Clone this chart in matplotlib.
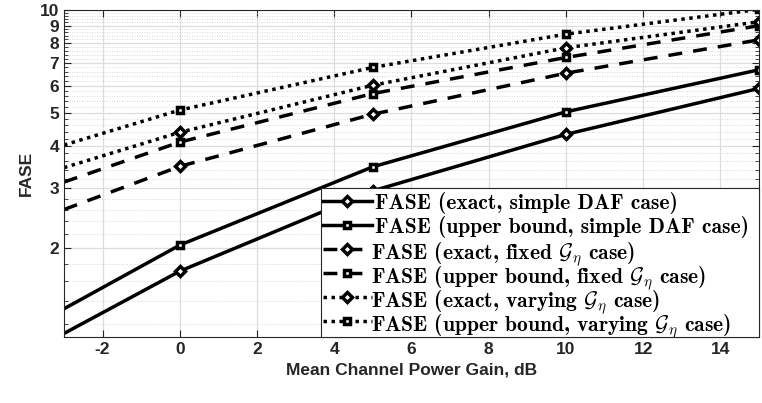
import numpy as np
import matplotlib
matplotlib.use('Agg')
import matplotlib.pyplot as plt
from matplotlib.patches import Rectangle
from matplotlib.ticker import FixedLocator, NullFormatter

plt.rcParams['mathtext.fontset'] = 'cm'
plt.rcParams['font.family'] = ['Liberation Sans', 'DejaVu Sans']
plt.rcParams['axes.unicode_minus'] = False

# Mean channel power gain (dB)
gainDb = [-3, 0, 5, 10, 15]

# FASE curves
simpleExact = [1.126, 1.715, 2.95, 4.32, 5.89]
simpleUpper = [1.33, 2.045, 3.47, 5.03, 6.68]
fixedExact = [2.60, 3.48, 4.95, 6.53, 8.18]
fixedUpper = [3.13, 4.10, 5.69, 7.26, 9.00]
varyingExact = [3.45, 4.38, 6.02, 7.75, 9.24]
varyingUpper = [4.02, 5.09, 6.79, 8.50, 10.05]

labels = [
    r'FASE (exact, simple DAF case)',
    r'FASE (upper bound, simple DAF case)',
    r'FASE (exact, fixed $\mathcal{G}_\eta$ case)',
    r'FASE (upper bound, fixed $\mathcal{G}_\eta$ case)',
    r'FASE (exact, varying $\mathcal{G}_\eta$ case)',
    r'FASE (upper bound, varying $\mathcal{G}_\eta$ case)',
]

fig = plt.figure(figsize=(7.62, 4.03), dpi=100)
ax = fig.add_axes([0.084, 0.164, 0.912, 0.811])

series = [simpleExact, simpleUpper, fixedExact, fixedUpper, varyingExact, varyingUpper]
markers = ['D', 's', 'D', 's', 'D', 's']
styles = ['solid', 'solid', 'dashed', 'dashed', 'dotted', 'dotted']


def styleLine(line, st):
    if st == 'dashed':
        line.set_dashes((4, 3.2))
        line.set_dash_capstyle('butt')
    elif st == 'dotted':
        line.set_dashes((1, 1.3))
        line.set_dash_capstyle('butt')


def markerSize(mk):
    return 5 if mk == 's' else 5.5


for vals, mk, st in zip(series, markers, styles):
    line, = ax.plot(gainDb, vals, color='black', lw=2.5, marker=mk,
                    markersize=markerSize(mk), mfc='white', mec='black',
                    mew=2.5, markevery=[1, 2, 3, 4])
    styleLine(line, st)

ax.set_yscale('log')
ax.set_xlim(-3, 15)
ax.set_ylim(1.1, 10)
ax.set_xticks(np.arange(-2, 15, 2))
yt = [2, 3, 4, 5, 6, 7, 8, 9, 10]
ax.yaxis.set_major_locator(FixedLocator(yt))
ax.set_yticklabels([str(v) for v in yt])
minor = [v for v in np.arange(1.2, 10, 0.2) if abs(v - round(v)) > 1e-6]
ax.yaxis.set_minor_locator(FixedLocator(minor))
ax.yaxis.set_minor_formatter(NullFormatter())

ax.grid(True, which='major', color='#dddddd', lw=0.9)
ax.grid(True, which='minor', axis='y', color='#cccccc', lw=0.6, linestyle=(0, (1, 2)))
ax.set_axisbelow(True)

ax.tick_params(which='both', direction='in', top=True, right=True, colors='#262626',
               labelsize=12.5)
ax.tick_params(which='major', length=5)
ax.tick_params(which='minor', length=3)
for lbl in ax.get_xticklabels() + ax.get_yticklabels():
    lbl.set_fontweight('bold')
for sp in ax.spines.values():
    sp.set_color('#262626')
    sp.set_linewidth(0.8)

ax.set_xlabel('Mean Channel Power Gain, dB', fontsize=12.5, fontweight='bold', color='#262626')
ax.set_ylabel('FASE', fontsize=12.5, fontweight='bold', color='#262626')

# Hand-built legend box (equal row pitch), in axes fractions
axW, axH = 695.0, 326.8
legLeft = 257 / axW
legTop = 149 / axH
ax.add_patch(Rectangle((legLeft, 0), 1 - legLeft, legTop, transform=ax.transAxes,
                       facecolor='white', edgecolor='#262626', lw=0.8,
                       zorder=5, clip_on=False))
rowPitch = 24 / axH
firstRow = 136 / axH
h0, h1, hm = 259 / axW, 308 / axW, 283.5 / axW
textX = 311 / axW
for i, (mk, st, lab) in enumerate(zip(markers, styles, labels)):
    y = firstRow - i * rowPitch
    seg, = ax.plot([h0, h1], [y, y], transform=ax.transAxes, color='black', lw=2.5,
                   zorder=6, clip_on=False)
    styleLine(seg, st)
    ax.plot([hm], [y], transform=ax.transAxes, marker=mk, markersize=markerSize(mk),
            mfc='white', mec='black', mew=2.5, zorder=7, clip_on=False)
    # mathtext labels start a few pixels further right; pull them back
    tx = textX - (4 / axW if '$' in lab else 0)
    ax.text(tx, y, lab, transform=ax.transAxes, fontfamily='cmb10', fontsize=15.5,
            va='center_baseline', ha='left', zorder=7)

fig.savefig('out.png', dpi=100)
